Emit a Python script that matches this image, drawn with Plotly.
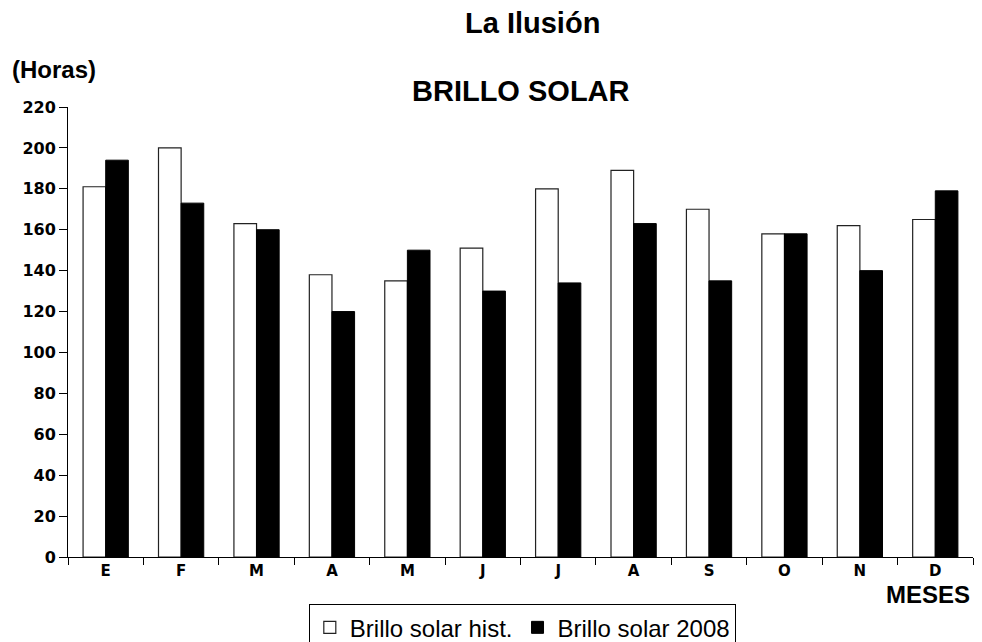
import plotly.graph_objects as go

# monthly sunshine hours, La Ilusión
meses = ["Ene", "Feb", "Mar", "Abr", "May", "Jun",
         "Jul", "Ago", "Sep", "Oct", "Nov", "Dic"]
meses_letra = ["E", "F", "M", "A", "M", "J", "J", "A", "S", "O", "N", "D"]
brillo_hist = [181, 200, 163, 138, 135, 151, 180, 189, 170, 158, 162, 165]
brillo_2008 = [194, 173, 160, 120, 150, 130, 134, 163, 135, 158, 140, 179]
y_ticks = list(range(0, 221, 20))

FONT = "Liberation Sans, Arial, sans-serif"
TICKFONT = "DejaVu Sans, sans-serif"

fig = go.Figure()
fig.add_trace(
    go.Bar(
        x=meses,
        y=brillo_hist,
        name="Brillo solar hist.",
        marker=dict(color="#ffffff", line=dict(color="#222222", width=1.2)),
    )
)
fig.add_trace(
    go.Bar(
        x=meses,
        y=brillo_2008,
        name="Brillo solar 2008",
        marker=dict(color="#000000", line=dict(color="#000000", width=1)),
    )
)

# page body has an 8px margin, so everything is shifted up/left by 8
fig.update_layout(
    width=982,
    height=642,
    autosize=False,
    plot_bgcolor="#ffffff",
    paper_bgcolor="#ffffff",
    margin=dict(l=60, r=17, t=99, b=93, autoexpand=False),
    barmode="group",
    bargap=0.4,
    bargroupgap=0,
    font=dict(family=FONT, color="#000000"),
    showlegend=True,
    legend=dict(
        orientation="h",
        x=0.502,
        xanchor="center",
        y=-0.105,
        yanchor="top",
        bordercolor="#000000",
        borderwidth=1,
        font=dict(size=24, family=FONT),
        tracegroupgap=0,
    ),
)

fig.update_xaxes(
    tickvals=meses,
    ticktext=meses_letra,
    showline=True,
    linecolor="#000000",
    linewidth=1,
    ticks="outside",
    tickson="boundaries",
    ticklen=7,
    tickcolor="#000000",
    tickfont=dict(size=15, family=TICKFONT, weight="bold"),
    showgrid=False,
    zeroline=False,
)
fig.update_yaxes(
    range=[0, 220],
    tickvals=y_ticks,
    showline=True,
    linecolor="#000000",
    linewidth=1,
    ticks="outside",
    ticklen=8,
    tickcolor="#000000",
    tickfont=dict(size=16, family=TICKFONT, weight="bold"),
    showgrid=False,
    zeroline=False,
)

fig.add_annotation(
    text="<b>La Ilusión</b>", xref="paper", yref="paper", x=0.513, y=1,
    yanchor="middle", yshift=84, showarrow=False, font=dict(size=29, family=FONT),
)
fig.add_annotation(
    text="<b>BRILLO SOLAR</b>", xref="paper", yref="paper", x=0.5, y=1,
    yanchor="middle", yshift=16, showarrow=False, font=dict(size=29, family=FONT),
)
fig.add_annotation(
    text="<b>(Horas)</b>", xref="paper", yref="paper", x=0, xanchor="left",
    xshift=-58, y=1, yanchor="middle", yshift=38, showarrow=False,
    font=dict(size=24, family=FONT),
)
fig.add_annotation(
    text="<b>MESES</b>", xref="paper", yref="paper", x=1, xanchor="right",
    xshift=-1, y=0, yanchor="middle", yshift=-37, showarrow=False,
    font=dict(size=24, family=FONT),
)

fig.write_html("out.html")
